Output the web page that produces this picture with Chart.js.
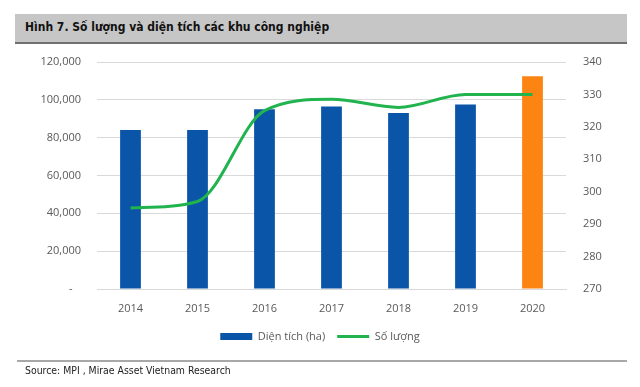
<!DOCTYPE html>
<html>
<head>
<meta charset="utf-8">
<script src="https://cdn.jsdelivr.net/npm/chart.js@4.4.1/dist/chart.umd.min.js"></script>
<style>
  html, body { margin: 0; padding: 0; background: #fff; }
  #wrap { position: relative; width: 640px; height: 387px; overflow: hidden; }
  #titlebar { position: absolute; left: 15px; top: 14px; width: 612px; height: 28px; background: #c6c6c6; border-bottom: 2px solid #707070; }
  #titlebar span { position: absolute; left: 10px; top: 6px; font: bold 12px "DejaVu Sans Condensed", sans-serif; color: #111; }
  #rule { position: absolute; left: 17px; top: 360px; width: 610px; height: 2px; background: #a8a8a8; }
  #source { position: absolute; left: 25px; top: 364px; font: 10.4px "DejaVu Sans Condensed", sans-serif; color: #222; }
  canvas { position: absolute; left: 0; top: 0; }
</style>
</head>
<body>
<div id="wrap">
  <canvas id="c" width="640" height="387"></canvas>
  <div id="titlebar"><span>Hình 7. Số lượng và diện tích các khu công nghiệp</span></div>
  <div id="rule"></div>
  <div id="source">Source: MPI , Mirae Asset Vietnam Research</div>
</div>
<script>
// data
const years = ['2014', '2015', '2016', '2017', '2018', '2019', '2020'];
const areaHa = [84000, 84000, 95000, 96500, 93000, 97500, 112500];
const parkCount = [295, 297, 325, 328.5, 326, 330, 330];
const leftTicks = [0, 20000, 40000, 60000, 80000, 100000, 120000];
const rightTicks = [270, 280, 290, 300, 310, 320, 330, 340];

const BLUE = '#0b55a8';
const ORANGE = '#fb8412';
const GREEN = '#20b34e';
const GRID = '#d9d9d9';
const TXT = '#595959';
const FONT = { family: '"Open Sans", sans-serif', size: 11 };

const barColors = years.map((y, i) => i === years.length - 1 ? ORANGE : BLUE);

new Chart(document.getElementById('c'), {
  type: 'bar',
  data: {
    labels: years,
    datasets: [
      {
        type: 'bar',
        label: 'Diện tích (ha)',
        data: areaHa,
        backgroundColor: barColors,
        borderWidth: 0,
        barPercentage: 0.62,
        categoryPercentage: 0.5,
        yAxisID: 'y',
        order: 1
      },
      {
        type: 'line',
        label: 'Số lượng',
        data: parkCount,
        borderColor: GREEN,
        borderWidth: 3,
        pointRadius: 0,
        cubicInterpolationMode: 'monotone',
        fill: false,
        yAxisID: 'y2',
        order: 0
      }
    ]
  },
  options: {
    responsive: false,
    animation: false,
    layout: { padding: { top: 62, left: 0, right: 0, bottom: 35 } },
    plugins: {
      tooltip: { enabled: false },
      legend: {
        position: 'bottom',
        labels: {
          usePointStyle: true,
          pointStyleWidth: 32,
          boxHeight: 7,
          padding: 12,
          color: TXT,
          font: FONT,
          generateLabels: function (chart) {
            return chart.data.datasets.map((ds, i) => ({
              text: ds.label,
              datasetIndex: i,
              fillStyle: i === 0 ? BLUE : GREEN,
              strokeStyle: i === 0 ? BLUE : GREEN,
              lineWidth: i === 0 ? 0 : 3,
              pointStyle: i === 0 ? 'rect' : 'line',
              fontColor: TXT,
              hidden: false
            }));
          }
        }
      }
    },
    scales: {
      x: {
        grid: { display: false },
        border: { display: true, color: GRID, width: 1 },
        ticks: { color: TXT, font: FONT, padding: 5, maxRotation: 0 },
        afterFit: s => { s.height = 30; }
      },
      y: {
        position: 'left',
        min: 0,
        max: 120000,
        afterBuildTicks: s => { s.ticks = leftTicks.map(v => ({ value: v })); },
        grid: { color: GRID, drawTicks: false },
        border: { display: false },
        ticks: {
          color: TXT, font: FONT, padding: 16,
          callback: v => v === 0 ? '-   ' : v.toLocaleString('en-US')
        },
        afterFit: s => { s.width = 97; }
      },
      y2: {
        position: 'right',
        min: 270,
        max: 340,
        afterBuildTicks: s => { s.ticks = rightTicks.map(v => ({ value: v })); },
        grid: { drawOnChartArea: false, drawTicks: false },
        border: { display: false },
        ticks: { color: TXT, font: FONT, padding: 17 },
        afterFit: s => { s.width = 74; }
      }
    }
  }
});
</script>
</body>
</html>
